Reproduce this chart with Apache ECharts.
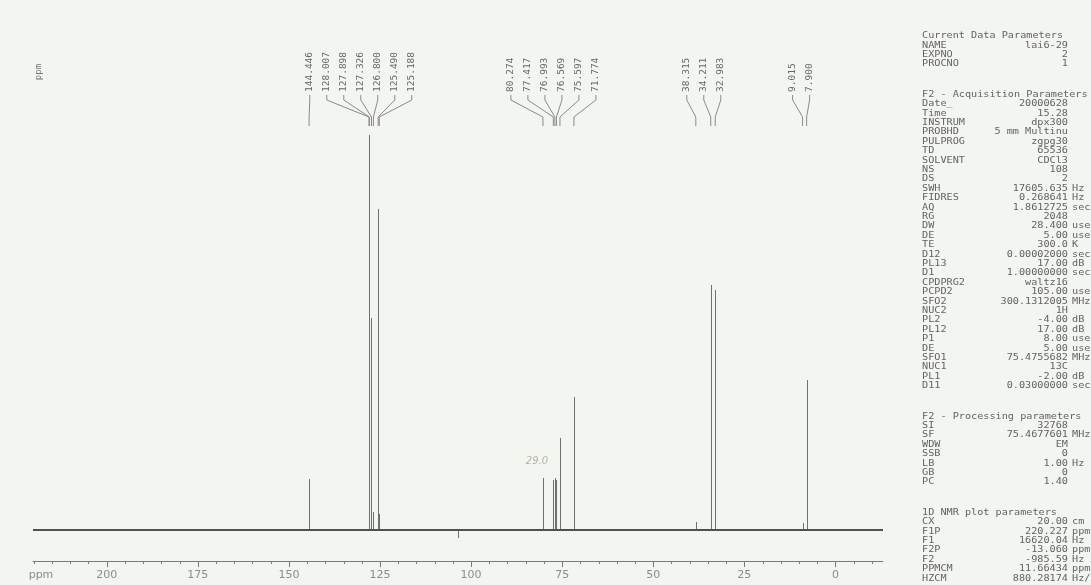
<!DOCTYPE html>
<html><head><meta charset="utf-8">
<script src="https://cdn.jsdelivr.net/npm/echarts@6/dist/echarts.min.js"></script>
<style>html,body{margin:0;padding:0;background:#f3f5f1;}#c{width:1091px;height:585px;}</style>
</head><body><div id="c"></div>
<script>
// ---- data ----
const axisMaxPpm = 220.227;
const axisMinPpm = -13.06;
const peakPpm    = [144.446, 128.007, 127.898, 127.326, 126.800, 125.490, 125.188, 103.7, 80.274, 77.417, 76.993, 76.569, 75.597, 71.774, 38.315, 34.211, 32.983, 9.015, 7.900];
const peakHeight = [51,      395,     110,     212,     18,      321,     16,      -8,    52,     50,     52,     50,     92,     133,    8,      245,    240,    7,     150];
const labelGroups = [
  ['144.446', '128.007', '127.898', '127.326', '126.800', '125.490', '125.188'],
  ['80.274', '77.417', '76.993', '76.569', '75.597', '71.774'],
  ['38.315', '34.211', '32.983'],
  ['9.015', '7.900']
];
const majorTickLabels = [200, 175, 150, 125, 100, 75, 50, 25, 0];
const minorTickStart = 220, minorTickEnd = -10, minorTickStep = 5;
const handNote = '29.0';

const currentDataTitle = 'Current Data Parameters';
const currentDataRows = [['NAME', 'lai6-29', ''], ['EXPNO', '2', ''], ['PROCNO', '1', '']];
const acquisitionTitle = 'F2 - Acquisition Parameters';
const acquisitionRows = [
  ['Date_', '20000628', ''], ['Time', '15.28', ''], ['INSTRUM', 'dpx300', ''],
  ['PROBHD', '5 mm Multinu', ''], ['PULPROG', 'zgpg30', ''], ['TD', '65536', ''],
  ['SOLVENT', 'CDCl3', ''], ['NS', '108', ''], ['DS', '2', ''],
  ['SWH', '17605.635', 'Hz'], ['FIDRES', '0.268641', 'Hz'], ['AQ', '1.8612725', 'sec'],
  ['RG', '2048', ''], ['DW', '28.400', 'usec'], ['DE', '5.00', 'usec'],
  ['TE', '300.0', 'K'], ['D12', '0.00002000', 'sec'], ['PL13', '17.00', 'dB'],
  ['D1', '1.00000000', 'sec'], ['CPDPRG2', 'waltz16', ''], ['PCPD2', '105.00', 'usec'],
  ['SFO2', '300.1312005', 'MHz'], ['NUC2', '1H', ''], ['PL2', '-4.00', 'dB'],
  ['PL12', '17.00', 'dB'], ['P1', '8.00', 'usec'], ['DE', '5.00', 'usec'],
  ['SFO1', '75.4755682', 'MHz'], ['NUC1', '13C', ''], ['PL1', '-2.00', 'dB'],
  ['D11', '0.03000000', 'sec']
];
const processingTitle = 'F2 - Processing parameters';
const processingRows = [
  ['SI', '32768', ''], ['SF', '75.4677601', 'MHz'], ['WDW', 'EM', ''], ['SSB', '0', ''],
  ['LB', '1.00', 'Hz'], ['GB', '0', ''], ['PC', '1.40', '']
];
const plotTitle = '1D NMR plot parameters';
const plotRows = [
  ['CX', '20.00', 'cm'], ['F1P', '220.227', 'ppm'], ['F1', '16620.04', 'Hz'],
  ['F2P', '-13.060', 'ppm'], ['F2', '-985.59', 'Hz'], ['PPMCM', '11.66434', 'ppm/cm'],
  ['HZCM', '880.28174', 'Hz/cm']
];

// ---- chart ----
const chart = echarts.init(document.getElementById('c'));
const Y_MIN = -31, Y_MAX = 430;
const mono = '"DejaVu Sans Mono", "Liberation Mono", monospace';

const tickList = [];
for (let v = minorTickStart; v >= minorTickEnd; v -= minorTickStep) tickList.push(v);

const labelItems = [];
labelGroups.forEach((g, gi) => g.forEach((s, i) => labelItems.push([parseFloat(s), gi, i])));

// parameter panel
const panel = [];
const PX_LABEL = 922, PX_VALUE = 1068, PX_UNIT = 1072;
const LINE = 9.4, GAP = 21;
const PANEL_FONT = '10.2px ' + mono, PANEL_FILL = '#636363', PANEL_SY = 0.85;
let py = 36;
function panelText(x, y, text, align) {
  panel.push({type: 'text', x: x, y: y, scaleY: PANEL_SY, style: {text: text, font: PANEL_FONT, fill: PANEL_FILL, align: align, verticalAlign: 'middle'}});
}
function addSection(title, rows) {
  panelText(PX_LABEL, py, title, 'left');
  py += LINE;
  rows.forEach(r => {
    panelText(PX_LABEL, py, r[0], 'left');
    panelText(PX_VALUE, py, r[1], 'right');
    if (r[2]) panelText(PX_UNIT, py, r[2], 'left');
    py += LINE;
  });
  py += GAP;
}
addSection(currentDataTitle, currentDataRows);
addSection(acquisitionTitle, acquisitionRows);
addSection(processingTitle, processingRows);
addSection(plotTitle, plotRows);

panel.push({type: 'text', x: 39, y: 72, rotation: Math.PI / 2, style: {text: 'ppm', font: '9px ' + mono, fill: '#777', align: 'center', verticalAlign: 'middle'}});
panel.push({type: 'text', x: 41, y: 575, style: {text: 'ppm', font: '11px "DejaVu Sans", sans-serif', fill: '#8c8c8c', align: 'center', verticalAlign: 'middle'}});
panel.push({type: 'text', x: 537, y: 461, style: {text: handNote, font: 'italic 10px "DejaVu Sans", sans-serif', fill: '#b8b2a6', align: 'center', verticalAlign: 'middle'}});

const option = {
  backgroundColor: '#f3f5f1',
  animation: false,
  grid: {left: 33, right: 208, top: 100, bottom: 24},
  xAxis: {
    type: 'value', inverse: true, min: axisMinPpm, max: axisMaxPpm,
    axisLine: {show: true, onZero: false, lineStyle: {color: '#7a7a7a', width: 1}},
    axisTick: {show: false}, axisLabel: {show: false}, splitLine: {show: false}
  },
  yAxis: {type: 'value', min: Y_MIN, max: Y_MAX, show: false, splitLine: {show: false}},
  graphic: panel,
  series: [
    {
      type: 'line', name: 'baseline', silent: true, symbol: 'none',
      data: [[axisMaxPpm, 0], [axisMinPpm, 0]],
      lineStyle: {color: '#505050', width: 2}
    },
    {
      type: 'custom', name: 'peaks', silent: true, clip: false,
      data: peakPpm.map((p, i) => [p, peakHeight[i]]),
      renderItem: (params, api) => {
        const top = api.coord([api.value(0), api.value(1)]);
        const base = api.coord([api.value(0), 0]);
        const x = Math.round(top[0]) + 0.5;
        return {type: 'line', shape: {x1: x, y1: base[1], x2: x, y2: top[1]}, style: {stroke: '#707070', lineWidth: 1}};
      }
    },
    {
      type: 'custom', name: 'ticks', silent: true, clip: false,
      data: tickList.map(v => [v]),
      renderItem: (params, api) => {
        const v = api.value(0);
        const p = api.coord([v, Y_MIN]);
        const len = (v % 25 === 0) ? 6 : 3;
        const x = Math.round(p[0]) + 0.5;
        return {type: 'line', shape: {x1: x, y1: p[1], x2: x, y2: p[1] + len}, style: {stroke: '#7a7a7a', lineWidth: 1}};
      }
    },
    {
      type: 'custom', name: 'tickLabels', silent: true, clip: false,
      data: majorTickLabels.map(v => [v]),
      renderItem: (params, api) => {
        const v = api.value(0);
        const p = api.coord([v, Y_MIN]);
        return {type: 'text', x: p[0], y: p[1] + 14, style: {text: String(v), font: '11px "DejaVu Sans", sans-serif', fill: '#8c8c8c', align: 'center', verticalAlign: 'middle'}};
      }
    },
    {
      type: 'custom', name: 'peakLabels', silent: true, clip: false,
      data: labelItems,
      renderItem: (params, api) => {
        const ppm = api.value(0), gi = api.value(1), i = api.value(2);
        const g = labelGroups[gi];
        const xs = g.map(s => api.coord([parseFloat(s), 0])[0]);
        const center = xs.reduce((a, b) => a + b, 0) / xs.length - 3.5;
        const lx = center + (i - (g.length - 1) / 2) * 17;
        const px = api.coord([ppm, 0])[0];
        return {
          type: 'group',
          children: [
            {type: 'polyline', shape: {points: [[lx, 95], [lx, 100], [px, 117], [px, 126]]}, style: {stroke: '#8a8a8a', fill: null, lineWidth: 1}},
            {type: 'text', x: lx, y: 92, rotation: Math.PI / 2, style: {text: g[i], font: '9.5px ' + mono, fill: '#666', align: 'left', verticalAlign: 'middle'}}
          ]
        };
      }
    }
  ]
};
chart.setOption(option);
</script></body></html>
